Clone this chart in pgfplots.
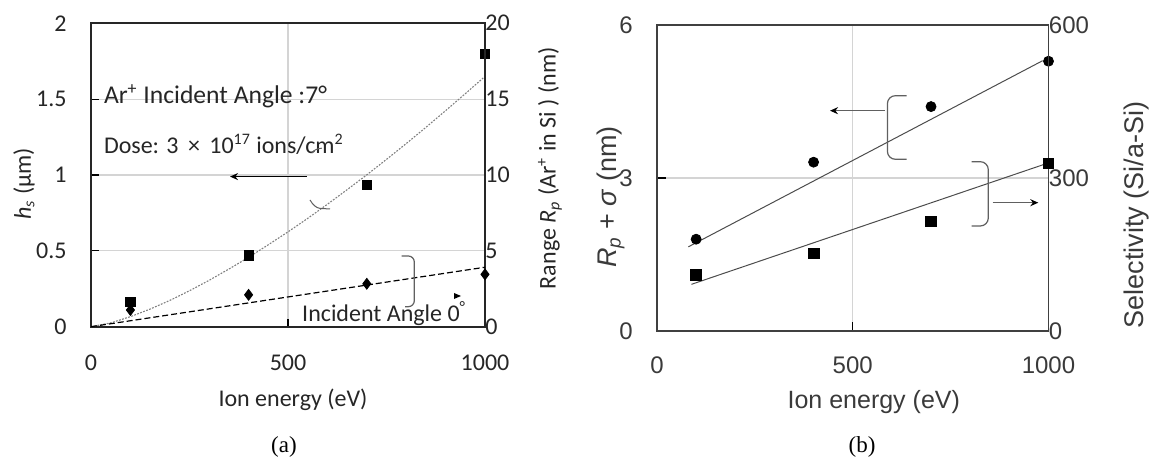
\documentclass[border=0pt]{standalone}
\usepackage{fontspec}
\setmainfont{Carlito}
\newfontfamily\fa{Carlito}
\newfontfamily\fb{Liberation Sans}
\newfontfamily\fs{Liberation Serif}
\usepackage{pgfplots}
\pgfplotsset{compat=1.18}
\usetikzlibrary{arrows.meta}

\definecolor{gridc}{HTML}{D4D4D4}
\definecolor{annc}{HTML}{606060}
\definecolor{txta}{HTML}{262626}
\definecolor{txtb}{HTML}{3A3A3A}

\pgfplotsset{
  common/.style={
    scale only axis, anchor=south west, clip=false,
    xmin=0, xmax=1000,
    /pgf/number format/assume math mode=true,
    /pgf/number format/1000 sep={},
    xticklabel style={anchor=center, inner sep=0pt, yshift=-18pt},
    yticklabel style={anchor=east, inner sep=0pt, xshift=-12pt},
  },
  rightaxis/.style={
    axis x line=none, axis y line*=right,
    major tick length=0pt,
    yticklabel style={anchor=west, inner sep=0pt, xshift=12pt},
  },
}

\begin{document}
\begin{tikzpicture}
\path[use as bounding box] (0,0) rectangle (576pt,229.5pt);

% ---------- panel (a) ----------
\begin{axis}[common,
  at={(45.5pt,66.15pt)}, width=197pt, height=151.7pt,
  ymin=0, ymax=2,
  xtick={0,500,1000}, ytick={0,0.5,1,1.5,2},
  grid=major, grid style={draw=gridc, line width=0.6pt},
  axis line style={draw=black!85, line width=1pt},
  tick pos=left, tick align=inside, major tick length=4pt,
  tick style={black, line width=0.6pt},
  tick label style={font=\fa\fontsize{12}{14}\selectfont, text=txta},
]
\addplot[gray, line width=0.55pt, dash pattern=on 0.9pt off 0.7pt] coordinates {
  (0,0) (50,0.025) (100,0.066) (150,0.116) (200,0.173) (250,0.237)
  (300,0.306) (350,0.380) (400,0.457) (450,0.540) (500,0.625)
  (550,0.714) (600,0.807) (650,0.903) (700,1.001) (750,1.103)
  (800,1.207) (850,1.314) (900,1.424) (950,1.536) (1000,1.65)};
\addplot[only marks, mark=square*, mark size=2.3pt, black] coordinates {
  (100,0.166) (400,0.47) (700,0.934) (1000,1.80)};
\end{axis}

\begin{axis}[common, rightaxis,
  at={(45.5pt,66.15pt)}, width=197pt, height=151.7pt,
  ymin=0, ymax=20, ytick={0,5,10,15,20},
  axis line style={draw=black!85, line width=1pt},
  tick label style={font=\fa\fontsize{12}{14}\selectfont, text=txta},
]
\addplot[black, line width=0.6pt, dash pattern=on 3pt off 1.5pt] coordinates {(0,0) (1000,3.92)};
\addplot[only marks, mark=diamond*, mark size=2.7pt, black] coordinates {
  (100,1.1) (400,2.1) (700,2.83) (1000,3.45)};
\end{axis}

% ---------- panel (b) ----------
\begin{axis}[common,
  at={(328.5pt,64pt)}, width=195.75pt, height=153pt,
  ymin=0, ymax=6,
  xtick={0,500,1000}, ytick={0,3,6},
  grid=major, grid style={draw=gridc, line width=0.6pt},
  axis line style={draw=black!75, line width=0.9pt},
  tick pos=left, tick align=inside, major tick length=4.3pt,
  tick style={black, line width=0.6pt},
  xticklabel style={yshift=1pt},
  tick label style={font=\fb\fontsize{12}{14}\selectfont, text=txtb},
]
\addplot[black!70, line width=0.5pt] coordinates {(80,1.65) (985,5.30)};
\addplot[only marks, mark=*, mark size=2.5pt, black] coordinates {
  (100,1.80) (400,3.31) (700,4.40) (1000,5.29)};
\end{axis}

\begin{axis}[common, rightaxis,
  at={(328.5pt,64pt)}, width=195.75pt, height=153pt,
  ymin=0, ymax=600, ytick={0,300,600},
  axis line style={draw=black!75, line width=0.9pt},
  tick label style={font=\fb\fontsize{12}{14}\selectfont, text=txtb},
]
\addplot[black!70, line width=0.5pt] coordinates {(88,91.5) (990,327)};
\addplot[only marks, mark=square*, mark size=2.65pt, black] coordinates {
  (100,110) (400,152) (700,215) (1000,329)};
\end{axis}

% ---------- labels (a) ----------
\begin{scope}[every node/.style={font=\fa\fontsize{12}{14}\selectfont, text=txta, inner sep=0pt}]
\node[rotate=90] at (12pt,137.5pt) {\textit{h}\textsubscript{\textit{s}} (μm)};
\node[rotate=90] at (275pt,145.4pt) {Range \textit{R}\textsubscript{\textit{p}} (Ar\textsuperscript{+} in Si ) (nm)};
\node at (146.5pt,29.5pt) {Ion energy (eV)};
\node[anchor=base west, font=\fa\fontsize{12.8}{15}\selectfont] at (51.8pt,177.9pt) {Ar\textsuperscript{+} Incident Angle :7°};
\node[anchor=base west] at (51.8pt,152.9pt) {Dose: 3 \,×\, 10\textsuperscript{17} ions/cm\textsuperscript{2}};
\node[anchor=base west] at (150.9pt,68.7pt) {Incident Angle 0\textsuperscript{°}};
\end{scope}
\draw[black, line width=0.8pt, -{Stealth[length=4pt, width=3.5pt]}] (153.5pt,141.2pt) -- (115pt,141.2pt);
\draw[annc, line width=0.5pt] (160.9pt,155.4pt) .. controls (158pt,155.2pt) and (156.5pt,154pt) .. (155.9pt,152.9pt);
\draw[annc, line width=0.5pt] (155pt,129.5pt) .. controls (156.5pt,127pt) and (158pt,125.6pt) .. (160pt,125.3pt) -- (165pt,125pt);
\draw[annc, line width=0.6pt, rounded corners=3pt] (200.85pt,101.5pt) -- (207.15pt,101.5pt) -- (207.15pt,76.15pt) -- (202.5pt,76.15pt);
\fill[black] (227pt,83pt) -- (230.5pt,81.5pt) -- (227pt,80pt) -- cycle;
\node[font=\fs\fontsize{11.5}{13}\selectfont, inner sep=0pt] at (142pt,6pt) {(a)};

% ---------- labels (b) ----------
\begin{scope}[every node/.style={font=\fb\fontsize{12.5}{15}\selectfont, text=txtb, inner sep=0pt}]
\node[rotate=90, font=\fb\fontsize{13.5}{16}\selectfont] at (305.3pt,131pt) {\textit{R}\textsubscript{\textit{p}} + \textit{σ} (nm)};
\node[rotate=90, font=\fb\fontsize{13.5}{16}\selectfont] at (568.3pt,122pt) {Selectivity (Si/a-Si)};
\node at (436.9pt,28.65pt) {Ion energy (eV)};
\end{scope}
\draw[annc, line width=0.6pt, rounded corners=4pt] (453.3pt,181.65pt) -- (443.7pt,181.65pt) -- (443.7pt,149.85pt) -- (453.3pt,149.85pt);
\draw[annc, line width=0.6pt, rounded corners=4pt] (485.85pt,148.65pt) -- (494.15pt,148.65pt) -- (494.15pt,116.5pt) -- (485.85pt,116.5pt);
\draw[annc, line width=0.6pt, -{Stealth[length=4pt, width=3.5pt, black]}] (442.5pt,174.15pt) -- (415pt,174.15pt);
\draw[annc, line width=0.6pt, -{Stealth[length=4pt, width=3.5pt, black]}] (496.35pt,128.15pt) -- (519.15pt,128.15pt);
\node[font=\fs\fontsize{11.5}{13}\selectfont, inner sep=0pt] at (431pt,6.15pt) {(b)};
\end{tikzpicture}
\end{document}
